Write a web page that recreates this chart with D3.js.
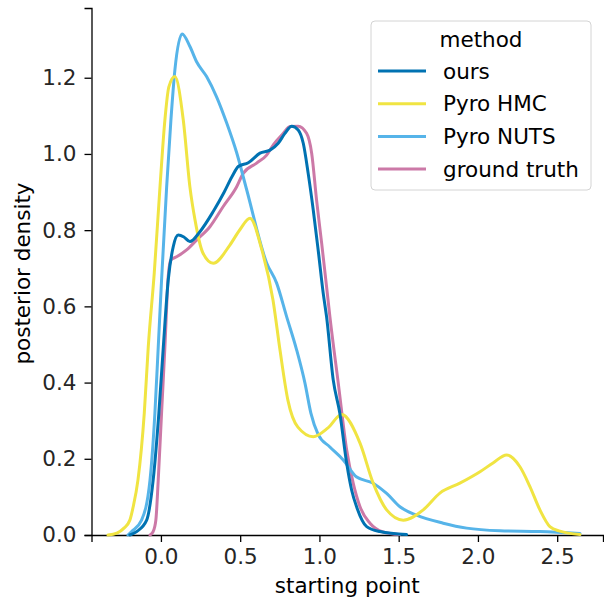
<!DOCTYPE html>
<html>
<head>
<meta charset="utf-8">
<script src="https://cdn.jsdelivr.net/npm/d3@7"></script>
<style>
  html, body { margin: 0; padding: 0; background: #fff; }
  svg { display: block; }
  text { font-family: "DejaVu Sans", sans-serif; fill: #262626; }
</style>
</head>
<body>
<svg id="chart" width="604" height="601"></svg>
<script>
// Posterior density estimates of the starting point, one curve per method.
const methods = ["ours", "Pyro HMC", "Pyro NUTS", "ground truth"];
const colors  = ["#0072B2", "#F0E442", "#56B4E9", "#CC79A7"];

// [starting point, density]
const oursPts = [
  [-0.196,0],[-0.153,0.009],[-0.090,0.039],[-0.049,0.144],[-0.013,0.320],[0.015,0.493],
  [0.046,0.669],[0.078,0.757],[0.109,0.787],[0.145,0.782],[0.183,0.770],[0.246,0.796],
  [0.330,0.849],[0.397,0.898],[0.448,0.940],[0.488,0.967],[0.551,0.977],[0.625,1.002],
  [0.688,1.010],[0.740,1.028],[0.782,1.054],[0.825,1.073],[0.866,1.063],[0.898,1.028],
  [0.929,0.949],[0.961,0.853],[0.992,0.748],[1.024,0.634],[1.045,0.573],[1.087,0.407],
  [1.129,0.319],[1.172,0.188],[1.203,0.118],[1.237,0.071],[1.298,0.022],[1.382,0.009],
  [1.550,0.001]
];
const hmcPts = [
  [-0.334,0],[-0.278,0.005],[-0.233,0.018],[-0.196,0.039],[-0.175,0.074],[-0.145,0.144],
  [-0.105,0.320],[-0.080,0.493],[-0.042,0.688],[-0.006,0.913],[0.025,1.089],[0.050,1.176],
  [0.088,1.203],[0.141,1.089],[0.183,0.913],[0.215,0.827],[0.265,0.740],[0.330,0.713],
  [0.435,0.761],[0.498,0.801],[0.562,0.831],[0.637,0.748],[0.707,0.617],[0.751,0.486],
  [0.801,0.354],[0.864,0.283],[0.961,0.258],[1.054,0.281],[1.140,0.316],[1.256,0.241],
  [1.339,0.136],[1.424,0.066],[1.529,0.039],[1.655,0.066],[1.760,0.110],[1.886,0.136],
  [2.013,0.166],[2.095,0.189],[2.181,0.210],[2.265,0.179],[2.328,0.127],[2.391,0.066],
  [2.454,0.022],[2.517,0.010],[2.644,0.001]
];
const nutsPts = [
  [-0.208,0],[-0.185,0.009],[-0.122,0.039],[-0.069,0.144],[-0.038,0.320],[-0.017,0.493],
  [0.004,0.669],[0.036,0.913],[0.063,1.089],[0.088,1.220],[0.134,1.315],[0.183,1.282],
  [0.225,1.242],[0.288,1.203],[0.351,1.150],[0.415,1.081],[0.478,1.003],[0.541,0.906],
  [0.667,0.714],[0.730,0.661],[0.793,0.573],[0.856,0.486],[0.909,0.398],
  [0.946,0.320],[0.991,0.265],[1.066,0.231],[1.150,0.197],[1.235,0.152],[1.339,0.136],
  [1.424,0.109],[1.508,0.074],[1.613,0.052],[1.781,0.031],[1.929,0.018],[2.139,0.011],
  [2.391,0.009],[2.644,0.004]
];
const truthPts = [
  [-0.069,0],[-0.049,0.009],[-0.032,0.039],[-0.017,0.144],[0.004,0.320],[0.025,0.493],
  [0.046,0.678],[0.063,0.722],[0.099,0.730],[0.162,0.748],[0.225,0.774],[0.309,0.809],
  [0.393,0.862],[0.478,0.914],[0.519,0.949],[0.604,0.976],[0.667,0.997],[0.709,1.024],
  [0.772,1.054],[0.814,1.072],[0.866,1.073],[0.919,1.054],[0.951,1.002],[0.982,0.879],
  [1.014,0.766],[1.045,0.652],[1.066,0.573],[1.119,0.398],[1.172,0.223],[1.213,0.136],
  [1.256,0.074],[1.319,0.031],[1.401,0.008],[1.508,0.001]
];
const seriesPts = [oursPts, hmcPts, nutsPts, truthPts];

const xTicks = [0.0, 0.5, 1.0, 1.5, 2.0, 2.5];
const yTicks = [0.0, 0.2, 0.4, 0.6, 0.8, 1.0, 1.2];

const svg = d3.select("#chart");
const plotLeft = 91.5, plotRight = 603, plotTop = 8, plotBottom = 535;

const x = d3.scaleLinear().domain([-0.438, 2.789]).range([plotLeft, plotRight]);
const y = d3.scaleLinear().domain([0, 1.383]).range([plotBottom, plotTop]);

const fontSize = 21.5;
const lineWidth = 3;

// axes (despined: only left and bottom)
const xAxis = svg.append("g")
  .attr("transform", `translate(0,${plotBottom})`)
  .call(d3.axisBottom(x).tickValues(xTicks).tickFormat(d3.format(".1f")).tickSize(7).tickPadding(7));
const yAxis = svg.append("g")
  .attr("transform", `translate(${plotLeft},0)`)
  .call(d3.axisLeft(y).tickValues(yTicks).tickFormat(d3.format(".1f")).tickSize(7).tickPadding(8));

[xAxis, yAxis].forEach(g => {
  g.select(".domain").attr("stroke", "#000").attr("stroke-width", 1.3);
  g.selectAll(".tick line").attr("stroke", "#000").attr("stroke-width", 1.3);
  g.selectAll(".tick text")
    .attr("font-family", "DejaVu Sans, sans-serif")
    .attr("font-size", fontSize)
    .attr("fill", "#000");
});

// curves, first method drawn last so it sits on top
const line = d3.line()
  .x(d => x(d[0]))
  .y(d => y(Math.max(0, d[1])))
  .curve(d3.curveMonotoneX);

const order = d3.range(methods.length).reverse();
svg.append("g").selectAll("path")
  .data(order)
  .join("path")
  .attr("d", i => line(seriesPts[i]))
  .attr("fill", "none")
  .attr("stroke", i => colors[i])
  .attr("stroke-width", lineWidth)
  .attr("stroke-linejoin", "round")
  .attr("stroke-linecap", "round");

// axis titles
svg.append("text")
  .attr("x", (plotLeft + plotRight) / 2).attr("y", 593)
  .attr("text-anchor", "middle")
  .attr("font-size", fontSize)
  .style("fill", "#000")
  .text("starting point");

svg.append("text")
  .attr("transform", `translate(30,${(plotTop + plotBottom) / 2 + 2}) rotate(-90)`)
  .attr("text-anchor", "middle")
  .attr("font-size", fontSize)
  .style("fill", "#000")
  .text("posterior density");

// legend
const lg = svg.append("g");
lg.append("rect")
  .attr("x", 371).attr("y", 21).attr("width", 220).attr("height", 169)
  .attr("rx", 4).attr("ry", 4)
  .attr("fill", "#fff").attr("fill-opacity", 0.8)
  .attr("stroke", "#d4d4d4").attr("stroke-width", 1);
lg.append("text")
  .attr("x", 481).attr("y", 47)
  .attr("text-anchor", "middle")
  .attr("font-size", fontSize)
  .style("fill", "#000")
  .text("method");
methods.forEach((m, i) => {
  const ly = 71 + i * 32.7;
  lg.append("line")
    .attr("x1", 378).attr("x2", 426)
    .attr("y1", ly).attr("y2", ly)
    .attr("stroke", colors[i]).attr("stroke-width", lineWidth);
  lg.append("text")
    .attr("x", 443).attr("y", ly + 7.5)
    .attr("font-size", fontSize)
    .style("fill", "#000")
    .text(m);
});
</script>
</body>
</html>
